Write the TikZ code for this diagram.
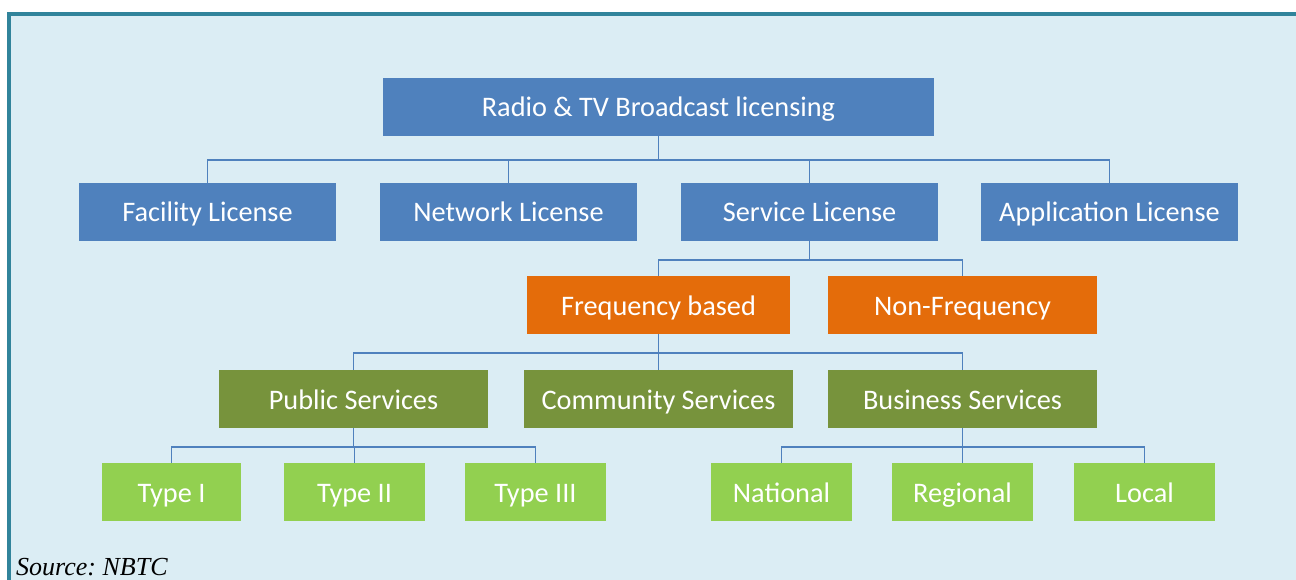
\documentclass[tikz,border=0pt]{standalone}
\usepackage{fontspec}
\setmainfont{Carlito}
\newfontfamily\srcfont{Liberation Serif}
\definecolor{bgblue}{HTML}{DBEDF4}
\definecolor{frame}{HTML}{31849B}
\definecolor{boxblue}{HTML}{4F81BD}
\definecolor{boxorange}{HTML}{E46C0A}
\definecolor{boxolive}{HTML}{77933C}
\definecolor{boxgreen}{HTML}{92D050}
\definecolor{linkblue}{HTML}{4F81BD}
\tikzset{
  box/.style={rectangle, inner sep=0pt, minimum height=58pt, text=white,
    text height=20pt, text depth=0pt,
    font=\fontsize{28.3}{33}\selectfont},
  bluebox/.style={box, fill=boxblue},
  orangebox/.style={box, fill=boxorange},
  olivebox/.style={box, fill=boxolive},
  greenbox/.style={box, fill=boxgreen},
  link/.style={draw=linkblue, line width=1.5pt}
}
\begin{document}
\begin{tikzpicture}[x=1pt,y=-1pt]
\useasboundingbox (0,0) rectangle (1296,580);
\fill[white] (0,0) rectangle (1296,580);
\fill[bgblue] (11,16) rectangle (1296,580);
\fill[frame] (7,12) rectangle (1296,16);
\fill[frame] (7,12) rectangle (11,580);

\node[bluebox, minimum width=551pt] (root) at (658.5,107) {Radio \& TV Broadcast licensing};

\node[bluebox, minimum width=257pt] (fac) at (207.5,212) {Facility License};
\node[bluebox, minimum width=257pt] (net) at (508.5,212) {Network License};
\node[bluebox, minimum width=257pt] (serv) at (809.5,212) {Service License};
\node[bluebox, minimum width=257pt] (app) at (1109.5,212) {Application License};

\node[orangebox, minimum width=263pt] (freq) at (658.5,305) {Frequency based};
\node[orangebox, minimum width=269pt] (nonf) at (962.5,305) {Non-Frequency};

\node[olivebox, minimum width=269pt] (pub) at (353.5,399) {Public Services};
\node[olivebox, minimum width=269pt] (comm) at (658.5,399) {Community Services};
\node[olivebox, minimum width=269pt] (bus) at (962.5,399) {Business Services};

\node[greenbox, minimum width=139pt] (t1) at (171.5,492) {Type I};
\node[greenbox, minimum width=141pt] (t2) at (354.5,492) {Type II};
\node[greenbox, minimum width=141pt] (t3) at (535.5,492) {Type III};
\node[greenbox, minimum width=141pt] (nat) at (781.5,492) {National};
\node[greenbox, minimum width=141pt] (reg) at (962.5,492) {Regional};
\node[greenbox, minimum width=141pt] (loc) at (1144.5,492) {Local};

\foreach \c in {fac,net,serv,app}
  \draw[link] (root.south) -- ++(0,24) -| (\c.north);
\foreach \c in {freq,nonf}
  \draw[link] (serv.south) -- ++(0,19) -| (\c.north);
\foreach \c in {pub,comm,bus}
  \draw[link] (freq.south) -- ++(0,19) -| (\c.north);
\foreach \c in {t1,t2,t3}
  \draw[link] (pub.south) -- ++(0,19) -| (\c.north);
\foreach \c in {nat,reg,loc}
  \draw[link] (bus.south) -- ++(0,19) -| (\c.north);

\node[anchor=base west, inner sep=0pt, font=\srcfont\itshape\fontsize{26}{30}\selectfont] (src) at (16,575) {\frenchspacing Source: NBTC};
\end{tikzpicture}
\end{document}
